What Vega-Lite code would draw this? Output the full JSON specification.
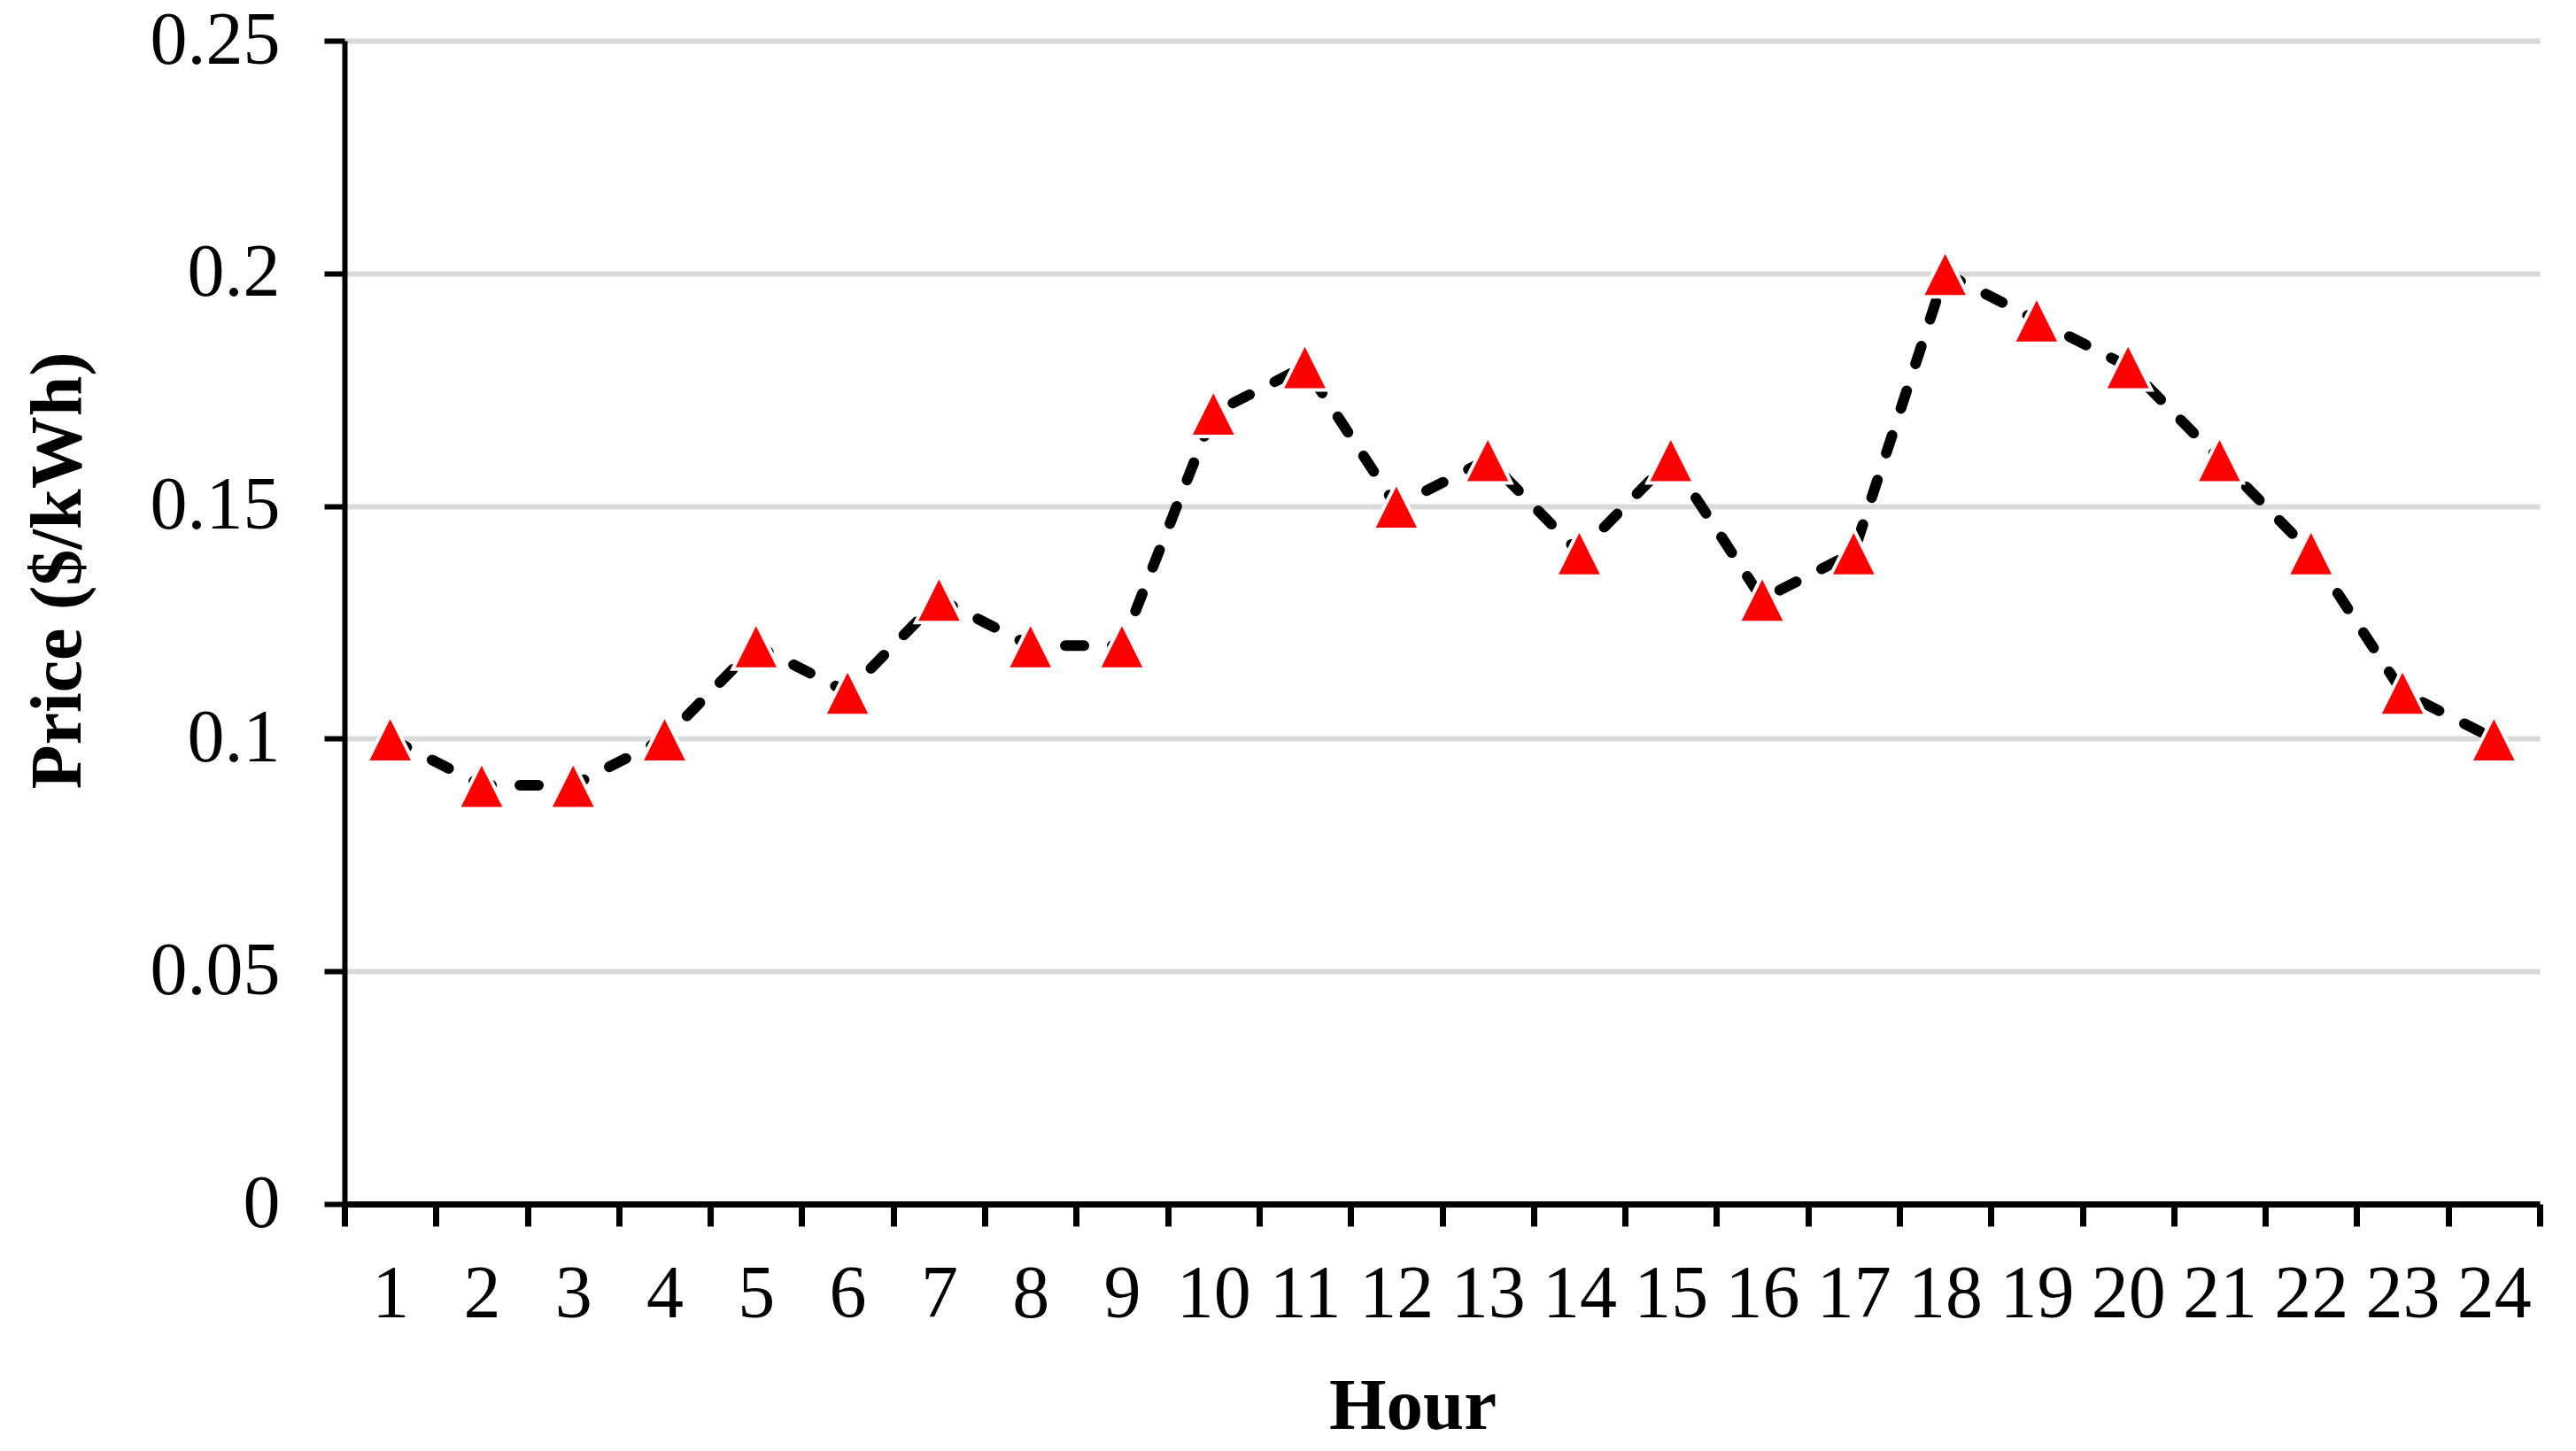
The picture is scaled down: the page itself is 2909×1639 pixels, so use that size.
{
  "$schema": "https://vega.github.io/schema/vega-lite/v6.json",
  "width": 2479,
  "height": 1314,
  "autosize": {"type": "none"},
  "padding": {"left": 389, "top": 46, "right": 41, "bottom": 279},
  "background": "white",
  "config": {
    "view": {"stroke": null},
    "font": "Liberation Serif"
  },
  "data": {
    "values": [
      {"hour": 1, "price": 0.10},
      {"hour": 2, "price": 0.09},
      {"hour": 3, "price": 0.09},
      {"hour": 4, "price": 0.10},
      {"hour": 5, "price": 0.12},
      {"hour": 6, "price": 0.11},
      {"hour": 7, "price": 0.13},
      {"hour": 8, "price": 0.12},
      {"hour": 9, "price": 0.12},
      {"hour": 10, "price": 0.17},
      {"hour": 11, "price": 0.18},
      {"hour": 12, "price": 0.15},
      {"hour": 13, "price": 0.16},
      {"hour": 14, "price": 0.14},
      {"hour": 15, "price": 0.16},
      {"hour": 16, "price": 0.13},
      {"hour": 17, "price": 0.14},
      {"hour": 18, "price": 0.20},
      {"hour": 19, "price": 0.19},
      {"hour": 20, "price": 0.18},
      {"hour": 21, "price": 0.16},
      {"hour": 22, "price": 0.14},
      {"hour": 23, "price": 0.11},
      {"hour": 24, "price": 0.10}
    ]
  },
  "encoding": {
    "x": {
      "field": "hour",
      "type": "ordinal",
      "scale": {"paddingInner": 0, "paddingOuter": 0},
      "axis": {
        "title": "Hour",
        "titleFont": "Liberation Serif",
        "titleFontSize": 83,
        "titleFontWeight": "bold",
        "titleColor": "black",
        "titleX": 1206,
        "titleY": 253,
        "titleAlign": "center",
        "titleBaseline": "alphabetic",
        "labelFont": "Liberation Serif",
        "labelFontSize": 84,
        "labelColor": "black",
        "labelAngle": 0,
        "labelPadding": 36,
        "labelBaseline": "top",
        "tickBand": "extent",
        "tickSize": 25,
        "tickWidth": 7,
        "tickColor": "black",
        "domainColor": "black",
        "domainWidth": 7,
        "grid": false
      }
    },
    "y": {
      "field": "price",
      "type": "quantitative",
      "scale": {"domain": [0, 0.25], "nice": false, "zero": true},
      "axis": {
        "title": "Price ($/kWh)",
        "titleFont": "Liberation Serif",
        "titleFontSize": 82,
        "titleFontWeight": "bold",
        "titleColor": "black",
        "titleAngle": -90,
        "titleX": -299,
        "titleY": 598,
        "titleAlign": "center",
        "titleBaseline": "alphabetic",
        "values": [0, 0.05, 0.1, 0.15, 0.2, 0.25],
        "labelExpr": "datum.value == 0 ? '0' : format(datum.value, '.2~f')",
        "labelFont": "Liberation Serif",
        "labelFontSize": 84,
        "labelColor": "black",
        "labelPadding": 50,
        "tickSize": 23,
        "tickWidth": 6,
        "tickColor": "black",
        "domainColor": "black",
        "domainWidth": 6,
        "grid": true,
        "gridColor": "#d9d9d9",
        "gridWidth": 6
      }
    }
  },
  "layer": [
    {
      "mark": {
        "type": "line",
        "color": "black",
        "strokeWidth": 12,
        "strokeDash": [21, 32],
        "strokeCap": "round",
        "strokeJoin": "round"
      }
    },
    {
      "mark": {
        "type": "point",
        "shape": "M0,-1L1,1L-1,1Z",
        "filled": true,
        "fill": "#ff0000",
        "fillOpacity": 1,
        "stroke": "white",
        "strokeWidth": 4,
        "opacity": 1,
        "size": 2809
      }
    }
  ]
}
